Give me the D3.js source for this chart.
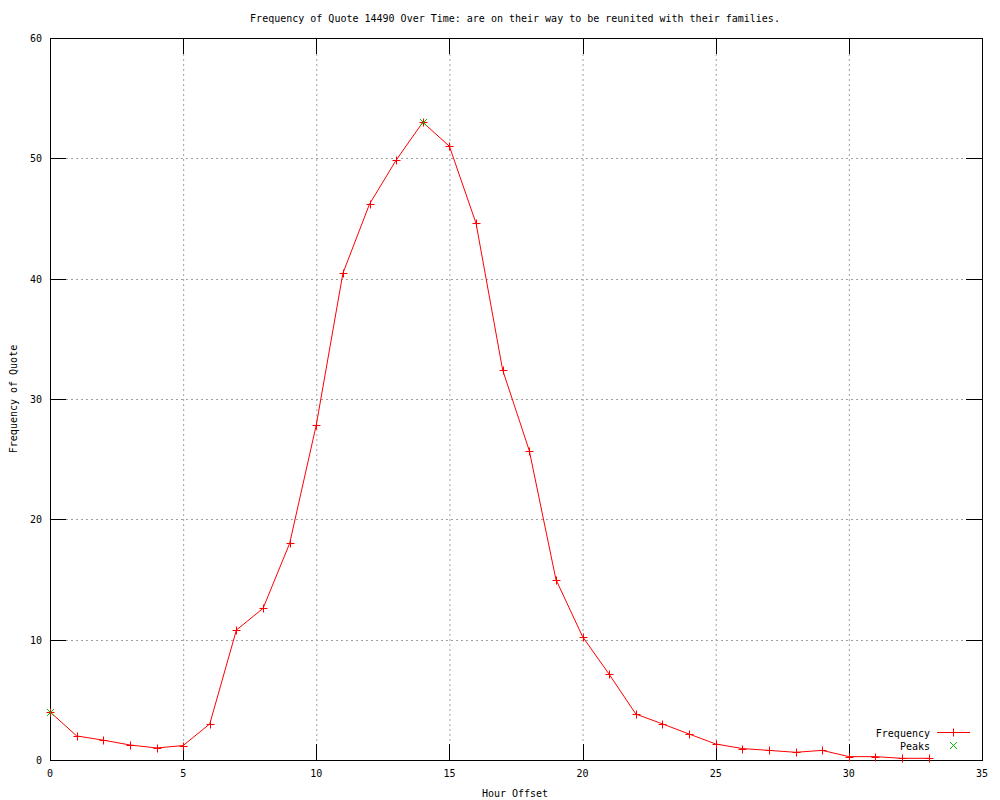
<!DOCTYPE html>
<html><head><meta charset="utf-8">
<script src="https://cdn.jsdelivr.net/npm/d3@7/dist/d3.min.js"></script>
<style>body{margin:0;background:#fff}text{font-family:"DejaVu Sans Mono",monospace;font-size:10px;fill:#000}</style>
</head><body><svg id="c" width="1000" height="800"></svg>
<script>
const hours = [0,1,2,3,4,5,6,7,8,9,10,11,12,13,14,15,16,17,18,19,20,21,22,23,24,25,26,27,28,29,30,31,32,33];
const frequency = [4.0,2.0,1.65,1.25,1.0,1.2,3.0,10.8,12.6,18.0,27.85,40.45,46.2,49.85,53.0,51.0,44.6,32.4,25.7,15.0,10.25,7.12,3.82,3.0,2.16,1.33,0.95,0.8,0.64,0.8,0.28,0.28,0.14,0.14];
const peakHours = [0,14];
const peakValues = [4.0,53.0];
const xTicks = [0,5,10,15,20,25,30,35];
const yTicks = [0,10,20,30,40,50,60];
const title = "Frequency of Quote 14490 Over Time: are on their way to be reunited with their families.";

const svg = d3.select("#c");
const L=50,R=982,T=38,B=760;
const x = d3.scaleLinear().domain([0,35]).range([L,R]);
const y = d3.scaleLinear().domain([0,60]).range([B,T]);
const tl = 16;

// grid
const g = svg.append("g");
xTicks.filter(v=>v>0&&v<35).forEach(v=>{
  g.append("line").attr("x1",x(v)+0.5).attr("x2",x(v)+0.5).attr("y1",T+tl).attr("y2",B-tl)
   .attr("stroke","#a0a0a0").attr("stroke-dasharray","2,3");
});
yTicks.filter(v=>v>0&&v<60).forEach(v=>{
  g.append("line").attr("y1",Math.round(y(v))+0.5).attr("y2",Math.round(y(v))+0.5).attr("x1",L+tl).attr("x2",R-tl)
   .attr("stroke","#a0a0a0").attr("stroke-dasharray","2,3");
});

// axes with inward ticks
const ax = svg.append("g");
ax.append("rect").attr("x",L+0.5).attr("y",T+0.5).attr("width",R-L).attr("height",B-T).attr("fill","none").attr("stroke","#000");
xTicks.forEach(v=>{
  const px=Math.round(x(v))+0.5;
  ax.append("line").attr("x1",px).attr("x2",px).attr("y1",B).attr("y2",B-tl).attr("stroke","#000");
  ax.append("line").attr("x1",px).attr("x2",px).attr("y1",T).attr("y2",T+tl).attr("stroke","#000");
  ax.append("text").attr("x",x(v)).attr("y",B+17).attr("text-anchor","middle").text(v);
});
yTicks.forEach(v=>{
  const py=Math.round(y(v))+0.5;
  ax.append("line").attr("y1",py).attr("y2",py).attr("x1",L).attr("x2",L+tl).attr("stroke","#000");
  ax.append("line").attr("y1",py).attr("y2",py).attr("x1",R).attr("x2",R-tl).attr("stroke","#000");
  ax.append("text").attr("x",L-8).attr("y",y(v)+4).attr("text-anchor","end").text(v);
});

// labels
svg.append("text").attr("x",515).attr("y",22).attr("text-anchor","middle").text(title);
svg.append("text").attr("x",515).attr("y",797).attr("text-anchor","middle").text("Hour Offset");
svg.append("text").attr("transform","translate(17,399) rotate(-90)").attr("text-anchor","middle").text("Frequency of Quote");

// line
const data = hours.map((h,i)=>[h,frequency[i]]);
svg.append("path").datum(data).attr("fill","none").attr("stroke","#ff0000").attr("stroke-width",1)
  .attr("d",d3.line().x(d=>x(d[0])).y(d=>y(d[1])));
const plus=(sel,cx,cy,s,c)=>{
  sel.append("line").attr("x1",cx-s).attr("x2",cx+s).attr("y1",cy).attr("y2",cy).attr("stroke",c);
  sel.append("line").attr("x1",cx).attr("x2",cx).attr("y1",cy-s).attr("y2",cy+s).attr("stroke",c);
};
const cross=(sel,cx,cy,s,c)=>{
  sel.append("line").attr("x1",cx-s).attr("x2",cx+s).attr("y1",cy-s).attr("y2",cy+s).attr("stroke",c);
  sel.append("line").attr("x1",cx-s).attr("x2",cx+s).attr("y1",cy+s).attr("y2",cy-s).attr("stroke",c);
};
const mk = svg.append("g");
data.forEach(d=>plus(mk,Math.round(x(d[0]))+0.5,Math.round(y(d[1]))+0.5,4,"#ff0000"));
peakHours.forEach((h,i)=>cross(mk,Math.round(x(h))+0.5,Math.round(y(peakValues[i]))+0.5,3.5,"#00c000"));

// legend
const lg = svg.append("g");
lg.append("text").attr("x",930).attr("y",737).attr("text-anchor","end").text("Frequency");
lg.append("line").attr("x1",937).attr("x2",970).attr("y1",732.5).attr("y2",732.5).attr("stroke","#ff0000");
plus(lg,953.5,732.5,4,"#ff0000");
lg.append("text").attr("x",930).attr("y",750).attr("text-anchor","end").text("Peaks");
cross(lg,953.5,745.5,3.5,"#00c000");
</script></body></html>
